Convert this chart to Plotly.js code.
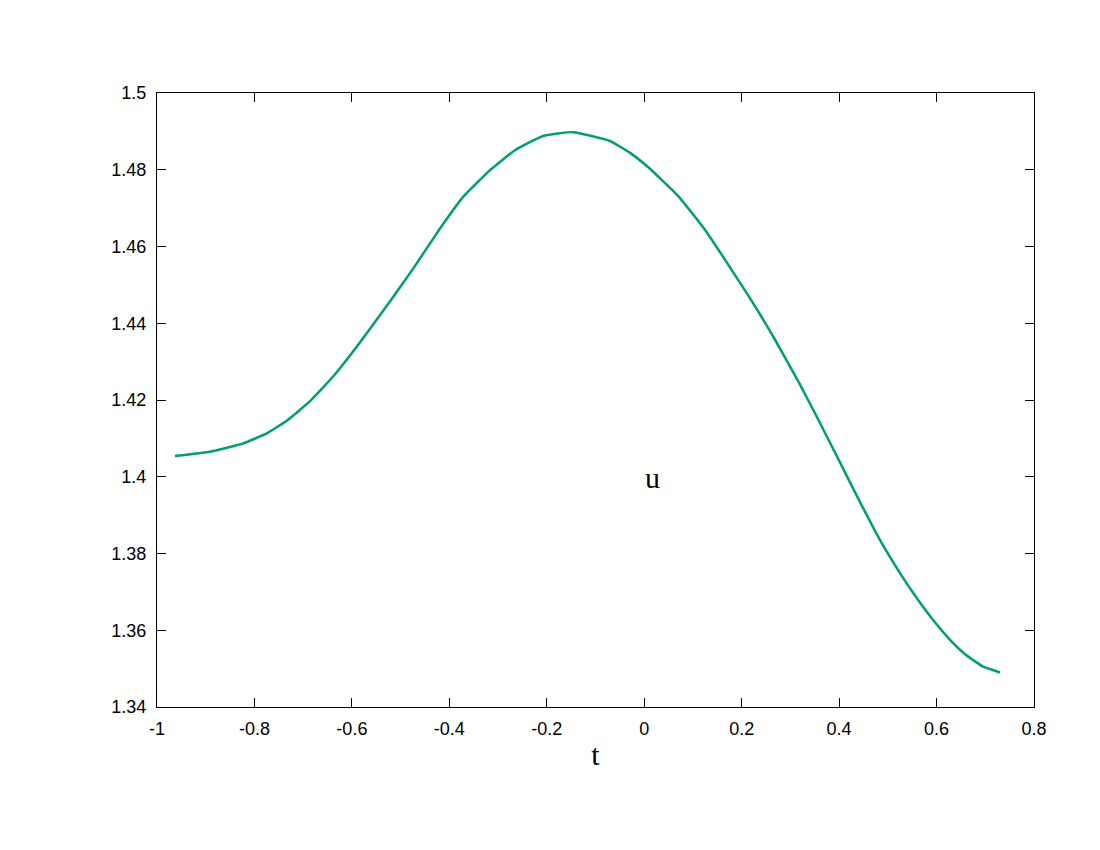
<!DOCTYPE html>
<html>
<head>
<meta charset="utf-8">
<script src="https://cdn.plot.ly/plotly-3.0.1.min.js"></script>
<style>html,body{margin:0;padding:0;background:#fff;}#chart{width:1100px;height:850px;}</style>
</head>
<body>
<div id="chart"></div>
<script>
const tValues = [-0.9631, -0.8912, -0.8229, -0.7748, -0.7338, -0.6860, -0.6381, -0.5901, -0.5696, -0.5150, -0.4739, -0.4191, -0.3713, -0.3165, -0.2652, -0.2077, -0.1461, -0.0702, -0.0291, 0.0078, 0.0694, 0.1268, 0.2192, 0.2685, 0.3198, 0.3608, 0.4019, 0.4429, 0.4840, 0.5250, 0.5593, 0.5934, 0.6277, 0.6619, 0.6960, 0.7303];
const uValues = [1.4054, 1.4065, 1.4087, 1.4113, 1.4146, 1.4197, 1.4262, 1.4339, 1.4374, 1.4469, 1.4543, 1.4647, 1.4730, 1.4799, 1.4851, 1.4888, 1.4898, 1.4875, 1.4844, 1.4807, 1.4732, 1.4640, 1.4461, 1.4357, 1.4240, 1.4140, 1.4037, 1.3934, 1.3835, 1.3749, 1.3684, 1.3626, 1.3575, 1.3534, 1.3505, 1.3490];
const xTickVals = [-1, -0.8, -0.6, -0.4, -0.2, 0, 0.2, 0.4, 0.6, 0.8];
const xTickText = ["-1", "-0.8", "-0.6", "-0.4", "-0.2", "0", "0.2", "0.4", "0.6", "0.8"];
const yTickVals = [1.34, 1.36, 1.38, 1.4, 1.42, 1.44, 1.46, 1.48, 1.5];
const yTickText = ["1.34", "1.36", "1.38", "1.4", "1.42", "1.44", "1.46", "1.48", "1.5"];
const xLabel = "t";
const yLabel = "u";

const trace = {
  x: tValues, y: uValues, type: 'scatter', mode: 'lines',
  line: {color: '#009e73', width: 2.5, shape: 'spline', smoothing: 0.4},
  hoverinfo: 'skip'
};
const axisCommon = {
  showline: true, linecolor: '#000', linewidth: 1, mirror: 'ticks',
  ticks: 'inside', ticklen: 9, tickwidth: 1, tickcolor: '#000',
  showgrid: false, zeroline: false,
  tickfont: {family: 'Liberation Sans, Arial, sans-serif', size: 18, color: '#000'}
};
const layout = {
  width: 1100, height: 850,
  margin: {l: 157, r: 66, t: 93, b: 143},
  paper_bgcolor: '#fff', plot_bgcolor: '#fff',
  showlegend: false,
  xaxis: Object.assign({}, axisCommon, {
    range: [-1, 0.8], tickvals: xTickVals, ticktext: xTickText, ticklabelstandoff: 5,
    title: {text: xLabel, font: {family: 'Liberation Serif, Times New Roman, serif', size: 30, color: '#000'}, standoff: 6}
  }),
  yaxis: Object.assign({}, axisCommon, {
    range: [1.34, 1.5], tickvals: yTickVals, ticktext: yTickText, ticklabelstandoff: 6
  }),
  annotations: [{
    text: yLabel, xref: 'paper', yref: 'paper', x: 0.565, y: 0.373,
    showarrow: false, xanchor: 'center', yanchor: 'middle',
    font: {family: 'Liberation Serif, Times New Roman, serif', size: 30, color: '#000'}
  }]
};
Plotly.newPlot('chart', [trace], layout, {staticPlot: true, displayModeBar: false});
</script>
</body>
</html>
